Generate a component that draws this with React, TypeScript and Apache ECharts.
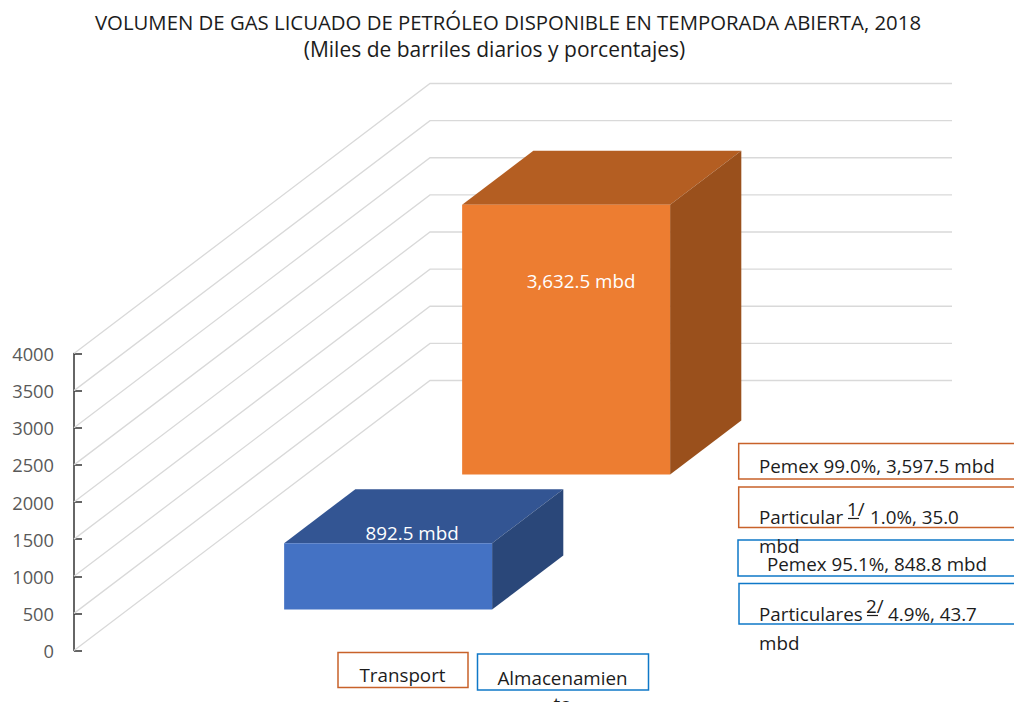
import React, { useEffect, useRef } from "react";
import * as echarts from "echarts";

const titleLines = [
  "VOLUMEN DE GAS LICUADO DE PETRÓLEO DISPONIBLE EN TEMPORADA ABIERTA, 2018",
  "(Miles de barriles diarios y porcentajes)",
];
const ticks = [0, 500, 1000, 1500, 2000, 2500, 3000, 3500, 4000];
const barValues = [892.5, 3632.5];
const barLabels = ["892.5 mbd", "3,632.5 mbd"];
const barFronts = ["#4472C4", "#ED7D31"];
const barTops = ["#335593", "#B45E22"];
const barSides = ["#2A4779", "#9A501C"];
const barDepthStart = [0.152, 0.652];
const barDepthSize = 0.2;
const barXStart = 0.2989;
const barXEnd = 0.6973;
const labelShift = [
  [24, -10],
  [15, 76],
];

const FONT = "'Open Sans', sans-serif";
const DEPTH_X = 356;
const DEPTH_Y = -270;
const ORANGE_LINE = "#C8622A";
const BLUE_LINE = "#0F78C8";
const TEXT = "#1c1c1c";
const FS = 18.8;

const box = (x: number, y: number, w: number, h: number, stroke: number | string) => ({
  type: "rect",
  shape: { x, y, width: w, height: h },
  style: { fill: "none", stroke, lineWidth: 1.5 },
  z: 10,
});
const txt = (x: number, y: number, text: string, align = "left", extra: any = {}) => ({
  type: "text",
  x,
  y,
  style: {
    text,
    fill: TEXT,
    font: `${FS}px ${FONT}`,
    align,
    verticalAlign: "middle",
    ...extra,
  },
  z: 11,
});
const under = (x1: number, x2: number, y: number) => ({
  type: "line",
  shape: { x1, y1: y, x2, y2: y },
  style: { stroke: TEXT, lineWidth: 1.2 },
  z: 11,
});

const graphics = [
  box(738.7, 443.5, 290, 35.5, ORANGE_LINE),
  box(738.7, 487, 290, 40.5, ORANGE_LINE),
  box(738, 540, 290, 36, BLUE_LINE),
  box(739, 583.5, 290, 40.5, BLUE_LINE),
  box(338, 652.5, 130, 35, ORANGE_LINE),
  box(477.5, 654, 171, 36, BLUE_LINE),
  txt(759, 466, "Pemex 99.0%, 3,597.5 mbd"),
  txt(759, 517, "Particular"),
  txt(847, 509, "1/"),
  under(848, 859, 518.5),
  txt(870, 517, "1.0%, 35.0"),
  txt(759, 546, "mbd"),
  txt(767, 564, "Pemex 95.1%, 848.8 mbd"),
  txt(759, 614, "Particulares"),
  txt(866, 606, "2/"),
  under(867, 878, 615.5),
  txt(888, 614, "4.9%, 43.7"),
  txt(759, 643, "mbd"),
  txt(402.5, 675, "Transport", "center"),
  txt(562.5, 678, "Almacenamien", "center"),
  txt(562.5, 704, "to", "center"),
];

export default function App() {
  const ref = useRef<HTMLDivElement>(null);
  useEffect(() => {
    const chart = echarts.init(ref.current!, undefined, { renderer: "svg" });
    const option: any = {
      animation: false,
      backgroundColor: "#fff",
      title: [
        {
          text: titleLines[0],
          left: 503,
          top: 3,
          textAlign: "center",
          textStyle: { fontFamily: FONT, fontWeight: "normal", fontSize: 20.35, lineHeight: 27, color: TEXT },
        },
        {
          text: titleLines[1],
          left: 489.5,
          top: 30,
          textAlign: "center",
          textStyle: { fontFamily: FONT, fontWeight: "normal", fontSize: 21, lineHeight: 27, color: TEXT },
        },
      ],
      grid: { left: 74, top: 353.5, width: 522, height: 297 },
      xAxis: { type: "value", min: 0, max: 1, show: false },
      yAxis: {
        type: "value",
        min: 0,
        max: 4000,
        interval: 500,
        axisLine: { show: true, lineStyle: { color: "#333", width: 1.5 } },
        axisTick: { show: true, inside: true, length: 8, lineStyle: { color: "#333", width: 1.5 } },
        axisLabel: {
          color: "#595959",
          fontFamily: FONT,
          fontSize: 18.3,
          margin: 20,
          formatter: (v: number) => String(v),
        },
        splitLine: { show: false },
      },
      series: [
        {
          type: "custom",
          coordinateSystem: "cartesian2d",
          silent: true,
          z: 1,
          data: ticks.map((t) => [0, t]),
          renderItem: (_p: any, api: any) => {
            const a = api.coord([0, api.value(1)]);
            const e = api.coord([1, api.value(1)]);
            return {
              type: "polyline",
              shape: {
                points: [a, [a[0] + DEPTH_X, a[1] + DEPTH_Y], [e[0] + DEPTH_X, e[1] + DEPTH_Y]],
              },
              style: { fill: "none", stroke: "#D9D9D9", lineWidth: 1.3 },
            };
          },
        },
        {
          type: "custom",
          coordinateSystem: "cartesian2d",
          silent: true,
          z: 2,
          data: barValues.map((v) => [barXStart, v]),
          renderItem: (p: any, api: any) => {
            const i = p.dataIndex;
            const v = api.value(1);
            const bl = api.coord([barXStart, 0]);
            const tr = api.coord([barXEnd, v]);
            const ox = DEPTH_X * barDepthStart[i];
            const oy = DEPTH_Y * barDepthStart[i];
            const dx = DEPTH_X * barDepthSize;
            const dy = DEPTH_Y * barDepthSize;
            const x0 = bl[0] + ox;
            const x1 = tr[0] + ox;
            const yb = bl[1] + oy;
            const yt = tr[1] + oy;
            return {
              type: "group",
              children: [
                {
                  type: "polygon",
                  shape: { points: [[x0, yt], [x1, yt], [x1 + dx, yt + dy], [x0 + dx, yt + dy]] },
                  style: { fill: barTops[i] },
                },
                {
                  type: "polygon",
                  shape: { points: [[x1, yt], [x1 + dx, yt + dy], [x1 + dx, yb + dy], [x1, yb]] },
                  style: { fill: barSides[i] },
                },
                {
                  type: "rect",
                  shape: { x: x0, y: yt, width: x1 - x0, height: yb - yt },
                  style: { fill: barFronts[i] },
                },
                {
                  type: "text",
                  x: (x0 + x1) / 2 + labelShift[i][0],
                  y: yt + labelShift[i][1],
                  style: {
                    text: barLabels[i],
                    fill: "#fff",
                    font: `${FS}px ${FONT}`,
                    align: "center",
                    verticalAlign: "middle",
                  },
                },
              ],
            };
          },
        },
      ],
      graphic: graphics,
    };
    chart.setOption(option);
    return () => chart.dispose();
  }, []);
  return <div ref={ref} style={{ position: "fixed", left: 0, top: 0, width: 1014, height: 702 }} />;
}
